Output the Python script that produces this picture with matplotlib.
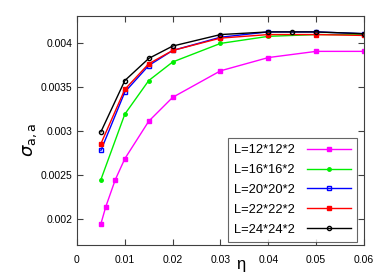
import matplotlib
matplotlib.use('Agg')
import matplotlib.pyplot as plt

plt.rcParams['font.family'] = ['Liberation Sans', 'DejaVu Sans']

eta12 = [0.005, 0.006, 0.008, 0.01, 0.015, 0.02, 0.03, 0.04, 0.05, 0.06]
sig12 = [0.00195, 0.00214, 0.002448, 0.002686, 0.00311, 0.00338, 0.00368, 0.00383, 0.0039, 0.0039]
eta = [0.005, 0.01, 0.015, 0.02, 0.03, 0.04, 0.05, 0.06]
sig16 = [0.00245, 0.00319, 0.00357, 0.00378, 0.00399, 0.00407, 0.00409, 0.00409]
sig20 = [0.00278, 0.00344, 0.00374, 0.00391, 0.00406, 0.00412, 0.00412, 0.0041]
sig22 = [0.002856, 0.00347, 0.00376, 0.00391, 0.00405, 0.00409, 0.00409, 0.00408]
eta24 = [0.005, 0.01, 0.015, 0.02, 0.03, 0.04, 0.045, 0.05, 0.06]
sig24 = [0.00299, 0.00357, 0.00382, 0.00396, 0.00409, 0.00412, 0.00412, 0.00412, 0.0041]

fig = plt.figure(figsize=(3.89, 2.73), dpi=100)
ax = fig.add_axes([77/389, 1-245/273, 287/389, 229/273])

ax.plot(eta12, sig12, color='#ff00ff', marker='s', ms=3, lw=1, label='L=12*12*2')
ax.plot(eta, sig16, color='#00ee00', marker='o', ms=2.5, lw=1, label='L=16*16*2')
ax.plot(eta, sig20, color='#0000ff', marker='s', ms=3.5, mfc='none', mew=1, lw=1, label='L=20*20*2')
ax.plot(eta, sig22, color='#ff0000', marker='s', ms=3.5, lw=1, label='L=22*22*2')
ax.plot(eta24, sig24, color='black', marker='o', ms=3, mfc='none', mew=1, lw=1, label='L=24*24*2')

ax.set_xlim(0, 0.06)
ax.set_ylim(0.00171, 0.0043)
ax.set_xticks([0, 0.01, 0.02, 0.03, 0.04, 0.05, 0.06])
ax.set_xticklabels(['0', '0.01', '0.02', '0.03', '0.04', '0.05', '0.06'])
ax.set_yticks([0.002, 0.0025, 0.003, 0.0035, 0.004])
ax.set_yticklabels(['0.002', '0.0025', '0.003', '0.0035', '0.004'])
ax.tick_params(direction='in', top=True, right=True, labelsize=7.5, length=4, color='#404040')
ax.tick_params(axis='x', pad=7)
for s in ax.spines.values():
    s.set_color('#404040')

fig.text(241/389, 1-265/273, 'η', fontsize=12, ha='center', va='center')
fig.text(30/389, 1-140/273, r'$\sigma_{\rm a,a}$', fontsize=13, ha='center', va='center', rotation=90)

leg = ax.legend(loc='lower right', bbox_to_anchor=((357-77)/287, 3/229), fontsize=9.3,
                frameon=True, fancybox=False, edgecolor='#404040', handlelength=3.4,
                borderaxespad=0, labelspacing=0.6, borderpad=0.5, handletextpad=0.9,
                markerfirst=False)
leg.get_frame().set_linewidth(0.8)

fig.savefig('out.png', dpi=100)
